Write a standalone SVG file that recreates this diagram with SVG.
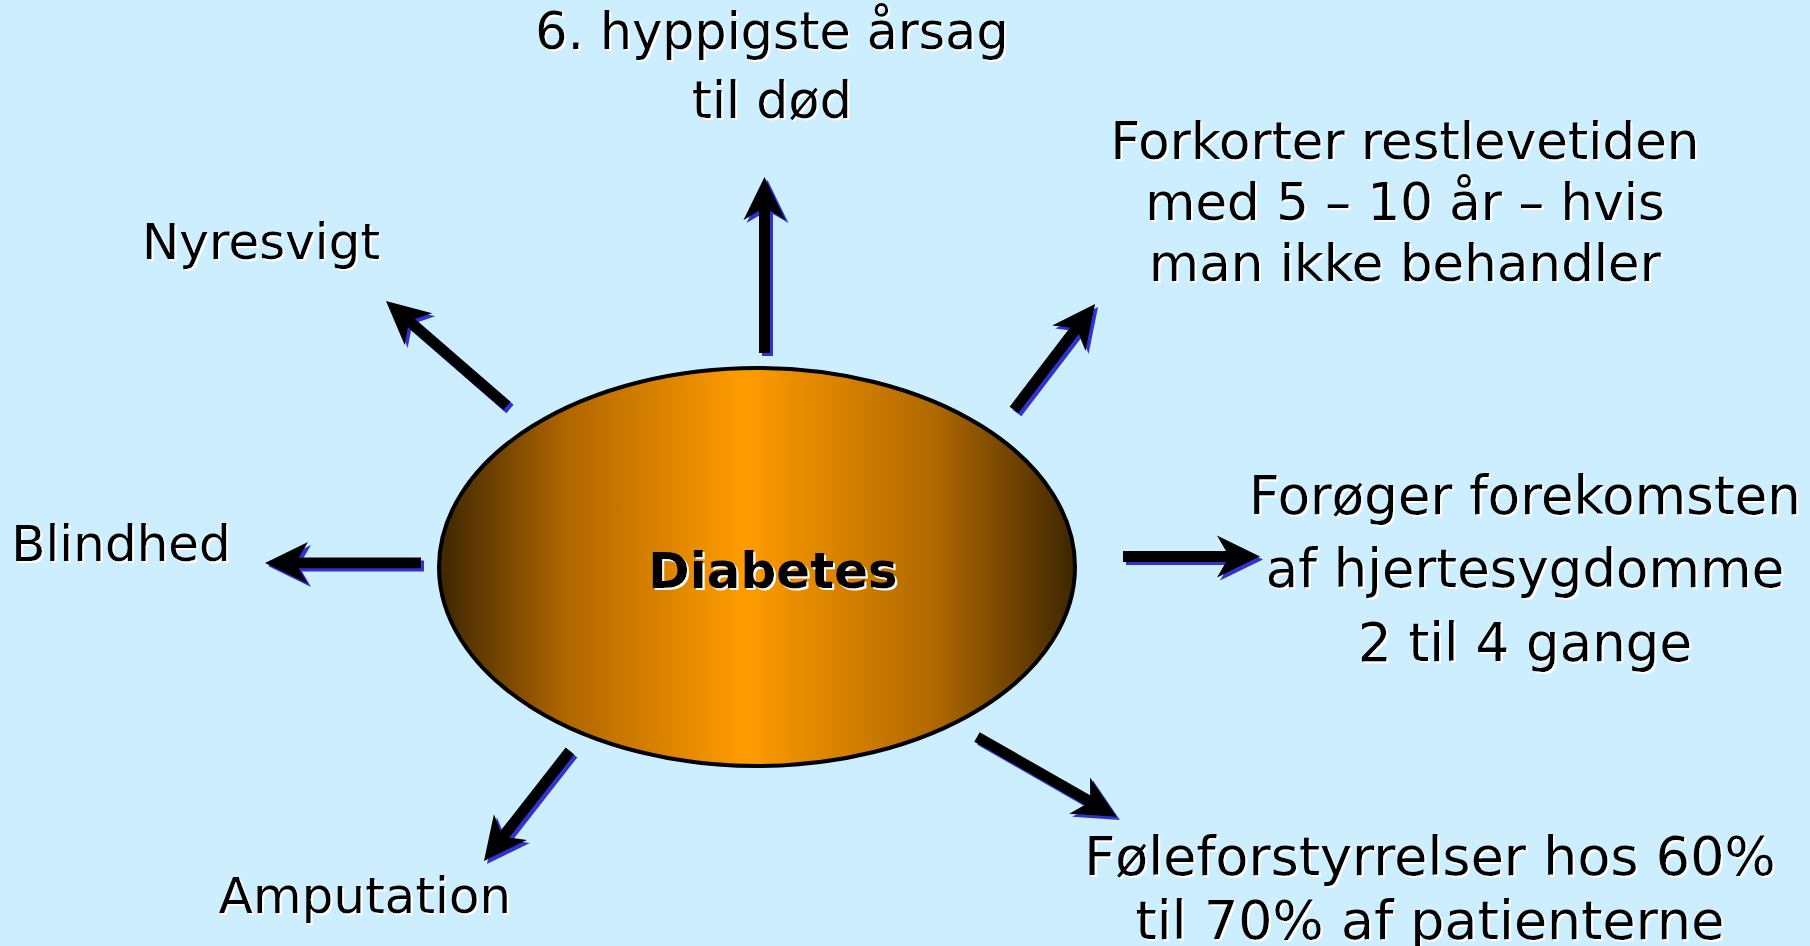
<svg xmlns="http://www.w3.org/2000/svg" width="1810" height="946" viewBox="0 0 1810 946">
<defs>
<style>
.lbl{font-family:"DejaVu Sans","Liberation Sans",sans-serif;font-size:50px;fill:#000;text-anchor:middle;filter:url(#wsh)}
.ttl{font-family:"DejaVu Sans","Liberation Sans",sans-serif;font-size:50px;font-weight:bold;fill:#000;text-anchor:middle;filter:url(#wsh)}
.arr{stroke:#000;stroke-width:11;fill:none;marker-end:url(#head)}
</style>
<linearGradient id="og" x1="0" y1="0" x2="1" y2="0">
<stop offset="0" stop-color="#3d2600"/>
<stop offset="0.2" stop-color="#b06600"/>
<stop offset="0.48" stop-color="#ff9c00"/>
<stop offset="0.78" stop-color="#b06800"/>
<stop offset="1" stop-color="#3d2600"/>
</linearGradient>
<filter id="wsh" x="-5%" y="-20%" width="110%" height="140%">
<feDropShadow dx="2" dy="2" stdDeviation="0" flood-color="#ffffff" flood-opacity="1"/>
</filter>
<filter id="bsh" x="-10%" y="-10%" width="120%" height="120%">
<feDropShadow dx="3" dy="3" stdDeviation="0" flood-color="#3333cc" flood-opacity="1"/>
</filter>
<marker id="head" markerUnits="userSpaceOnUse" orient="auto" viewBox="-15 -25 55 50" markerWidth="55" markerHeight="50" refX="0" refY="0">
<path d="M33,0 L-10,-21 L-1,-5.5 L-1,5.5 L-10,21 Z" fill="#000"/>
</marker>
</defs>
<rect width="1810" height="946" fill="#cceeff"/>
<g id="connectors" filter="url(#bsh)">
<line class="arr" x1="507" y1="406" x2="410.9" y2="322.6"/>
<line class="arr" x1="764.5" y1="353" x2="764.5" y2="210"/>
<line class="arr" x1="1014" y1="410" x2="1075" y2="330.2"/>
<line class="arr" x1="421" y1="563" x2="298" y2="563"/>
<line class="arr" x1="1123" y1="556.5" x2="1227" y2="556.5"/>
<line class="arr" x1="977" y1="737" x2="1088.3" y2="800.6"/>
<line class="arr" x1="570" y1="751" x2="504.3" y2="835"/>
</g>
<g id="diabetes">
<ellipse cx="757" cy="567" rx="318" ry="199" fill="url(#og)" stroke="#000" stroke-width="4"/>
<text class="ttl" x="773" y="588">Diabetes</text>
</g>
<g id="doed">
<text class="lbl" x="772" y="49" style="font-size:50.8px">6. hyppigste årsag</text>
<text class="lbl" x="772" y="118" style="font-size:50.8px">til død</text>
</g>
<g id="nyresvigt">
<text class="lbl" x="261" y="259">Nyresvigt</text>
</g>
<g id="blindhed">
<text class="lbl" x="121" y="561">Blindhed</text>
</g>
<g id="amputation">
<text class="lbl" x="365" y="913">Amputation</text>
</g>
<g id="restlevetid" style="font-size:51.5px">
<text class="lbl" x="1405" y="159" style="font-size:51.5px">Forkorter restlevetiden</text>
<text class="lbl" x="1405" y="220" style="font-size:51.5px">med 5 – 10 år – hvis</text>
<text class="lbl" x="1405" y="281" style="font-size:51.5px">man ikke behandler</text>
</g>
<g id="hjertesygdom">
<text class="lbl" x="1525" y="514" style="font-size:53px">Forøger forekomsten</text>
<text class="lbl" x="1525" y="587" style="font-size:53px">af hjertesygdomme</text>
<text class="lbl" x="1525" y="661" style="font-size:53px">2 til 4 gange</text>
</g>
<g id="foeleforstyrrelser">
<text class="lbl" x="1430" y="875" style="font-size:54px">Føleforstyrrelser hos 60%</text>
<text class="lbl" x="1430" y="939" style="font-size:54px">til 70% af patienterne</text>
</g>
</svg>
